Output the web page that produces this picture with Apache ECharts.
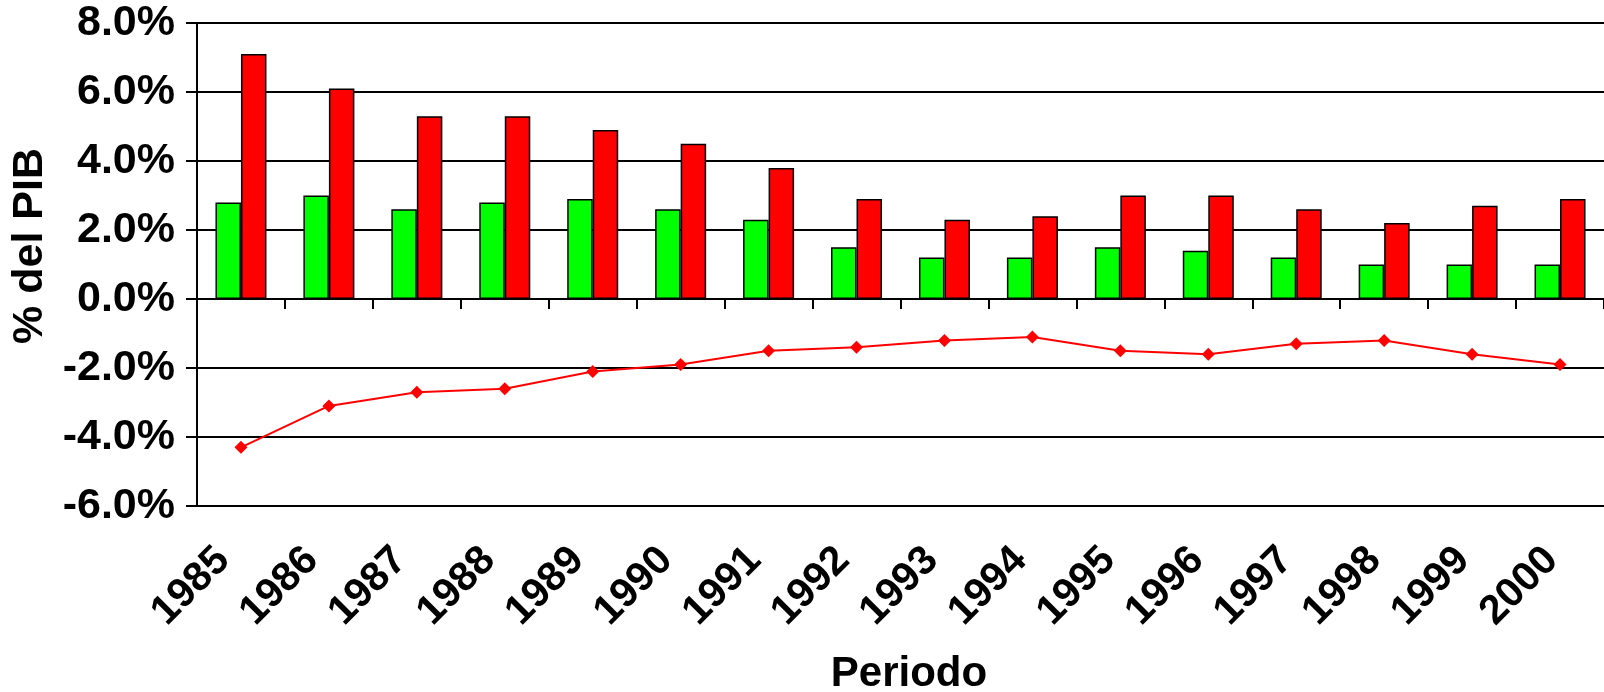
<!DOCTYPE html>
<html>
<head>
<meta charset="utf-8">
<script src="https://cdn.jsdelivr.net/npm/echarts@6/dist/echarts.min.js"></script>
<style>html,body{margin:0;padding:0;background:#fff}#c{width:1604px;height:692px}</style>
</head>
<body>
<div id="c"></div>
<script>
var years = ['1985','1986','1987','1988','1989','1990','1991','1992','1993','1994','1995','1996','1997','1998','1999','2000'];
var greenVals = [2.8, 3.0, 2.6, 2.8, 2.9, 2.6, 2.3, 1.5, 1.2, 1.2, 1.5, 1.4, 1.2, 1.0, 1.0, 1.0];
var redVals = [7.1, 6.1, 5.3, 5.3, 4.9, 4.5, 3.8, 2.9, 2.3, 2.4, 3.0, 3.0, 2.6, 2.2, 2.7, 2.9];
var lineVals = [-4.3, -3.1, -2.7, -2.6, -2.1, -1.9, -1.5, -1.4, -1.2, -1.1, -1.5, -1.6, -1.3, -1.2, -1.6, -1.9];
var yMin = -6, yMax = 8, yStep = 2;

var FONT = '"Liberation Sans", Arial, sans-serif';
var chart = echarts.init(document.getElementById('c'));
chart.setOption({
  animation: false,
  backgroundColor: '#fff',
  grid: [
    {left: 197, top: 23, width: 1417, height: 483, containLabel: false},
    {left: 179, top: 23, width: 1417, height: 483, containLabel: false}
  ],
  xAxis: [
    {
      type: 'category', gridIndex: 0, data: years,
      axisLine: {onZero: true, lineStyle: {color: '#000', width: 2}},
      axisTick: {show: true, length: 10, lineStyle: {color: '#000', width: 2}},
      axisLabel: {show: false},
      splitLine: {show: false}
    },
    {
      type: 'category', gridIndex: 1, data: years, position: 'bottom',
      axisLine: {show: false, onZero: false},
      axisTick: {show: false},
      axisLabel: {show: true, rotate: 45, margin: 48, color: '#000', fontFamily: FONT, fontWeight: 'bold', fontSize: 41, interval: 0},
      splitLine: {show: false}
    }
  ],
  yAxis: [
    {
      type: 'value', gridIndex: 0, min: yMin, max: yMax, interval: yStep,
      axisLine: {show: true, lineStyle: {color: '#000', width: 2}},
      axisTick: {show: true, length: 11, lineStyle: {color: '#000', width: 2}},
      axisLabel: {margin: 22, color: '#000', fontFamily: FONT, fontWeight: 'bold', fontSize: 43,
        formatter: function (v) { return v.toFixed(1) + '%'; }},
      splitLine: {show: true, lineStyle: {color: '#000', width: 2}}
    },
    {
      type: 'value', gridIndex: 1, min: yMin, max: yMax, interval: yStep, show: false,
      splitLine: {show: false}
    }
  ],
  graphic: [
    {type: 'text', x: 30, y: 246, rotation: Math.PI / 2,
      style: {text: '% del PIB', fill: '#000', font: 'bold 43px ' + FONT, textAlign: 'center', textVerticalAlign: 'middle'}},
    {type: 'text', x: 909, y: 674,
      style: {text: 'Periodo', fill: '#000', font: 'bold 42px ' + FONT, textAlign: 'center', textVerticalAlign: 'middle'}}
  ],
  series: [
    {type: 'bar', xAxisIndex: 0, yAxisIndex: 0, data: greenVals, barWidth: 25.5, barGap: '0%',
      itemStyle: {color: '#00ff00', borderColor: '#000', borderWidth: 1.5}},
    {type: 'bar', xAxisIndex: 0, yAxisIndex: 0, data: redVals, barWidth: 25.5, barGap: '0%',
      itemStyle: {color: '#ff0000', borderColor: '#000', borderWidth: 1.5}},
    {type: 'line', xAxisIndex: 0, yAxisIndex: 0, data: lineVals, symbol: 'diamond', symbolSize: [13, 13],
      lineStyle: {color: '#ff0000', width: 2}, itemStyle: {color: '#ff0000'}, z: 5}
  ]
});
</script>
</body>
</html>
